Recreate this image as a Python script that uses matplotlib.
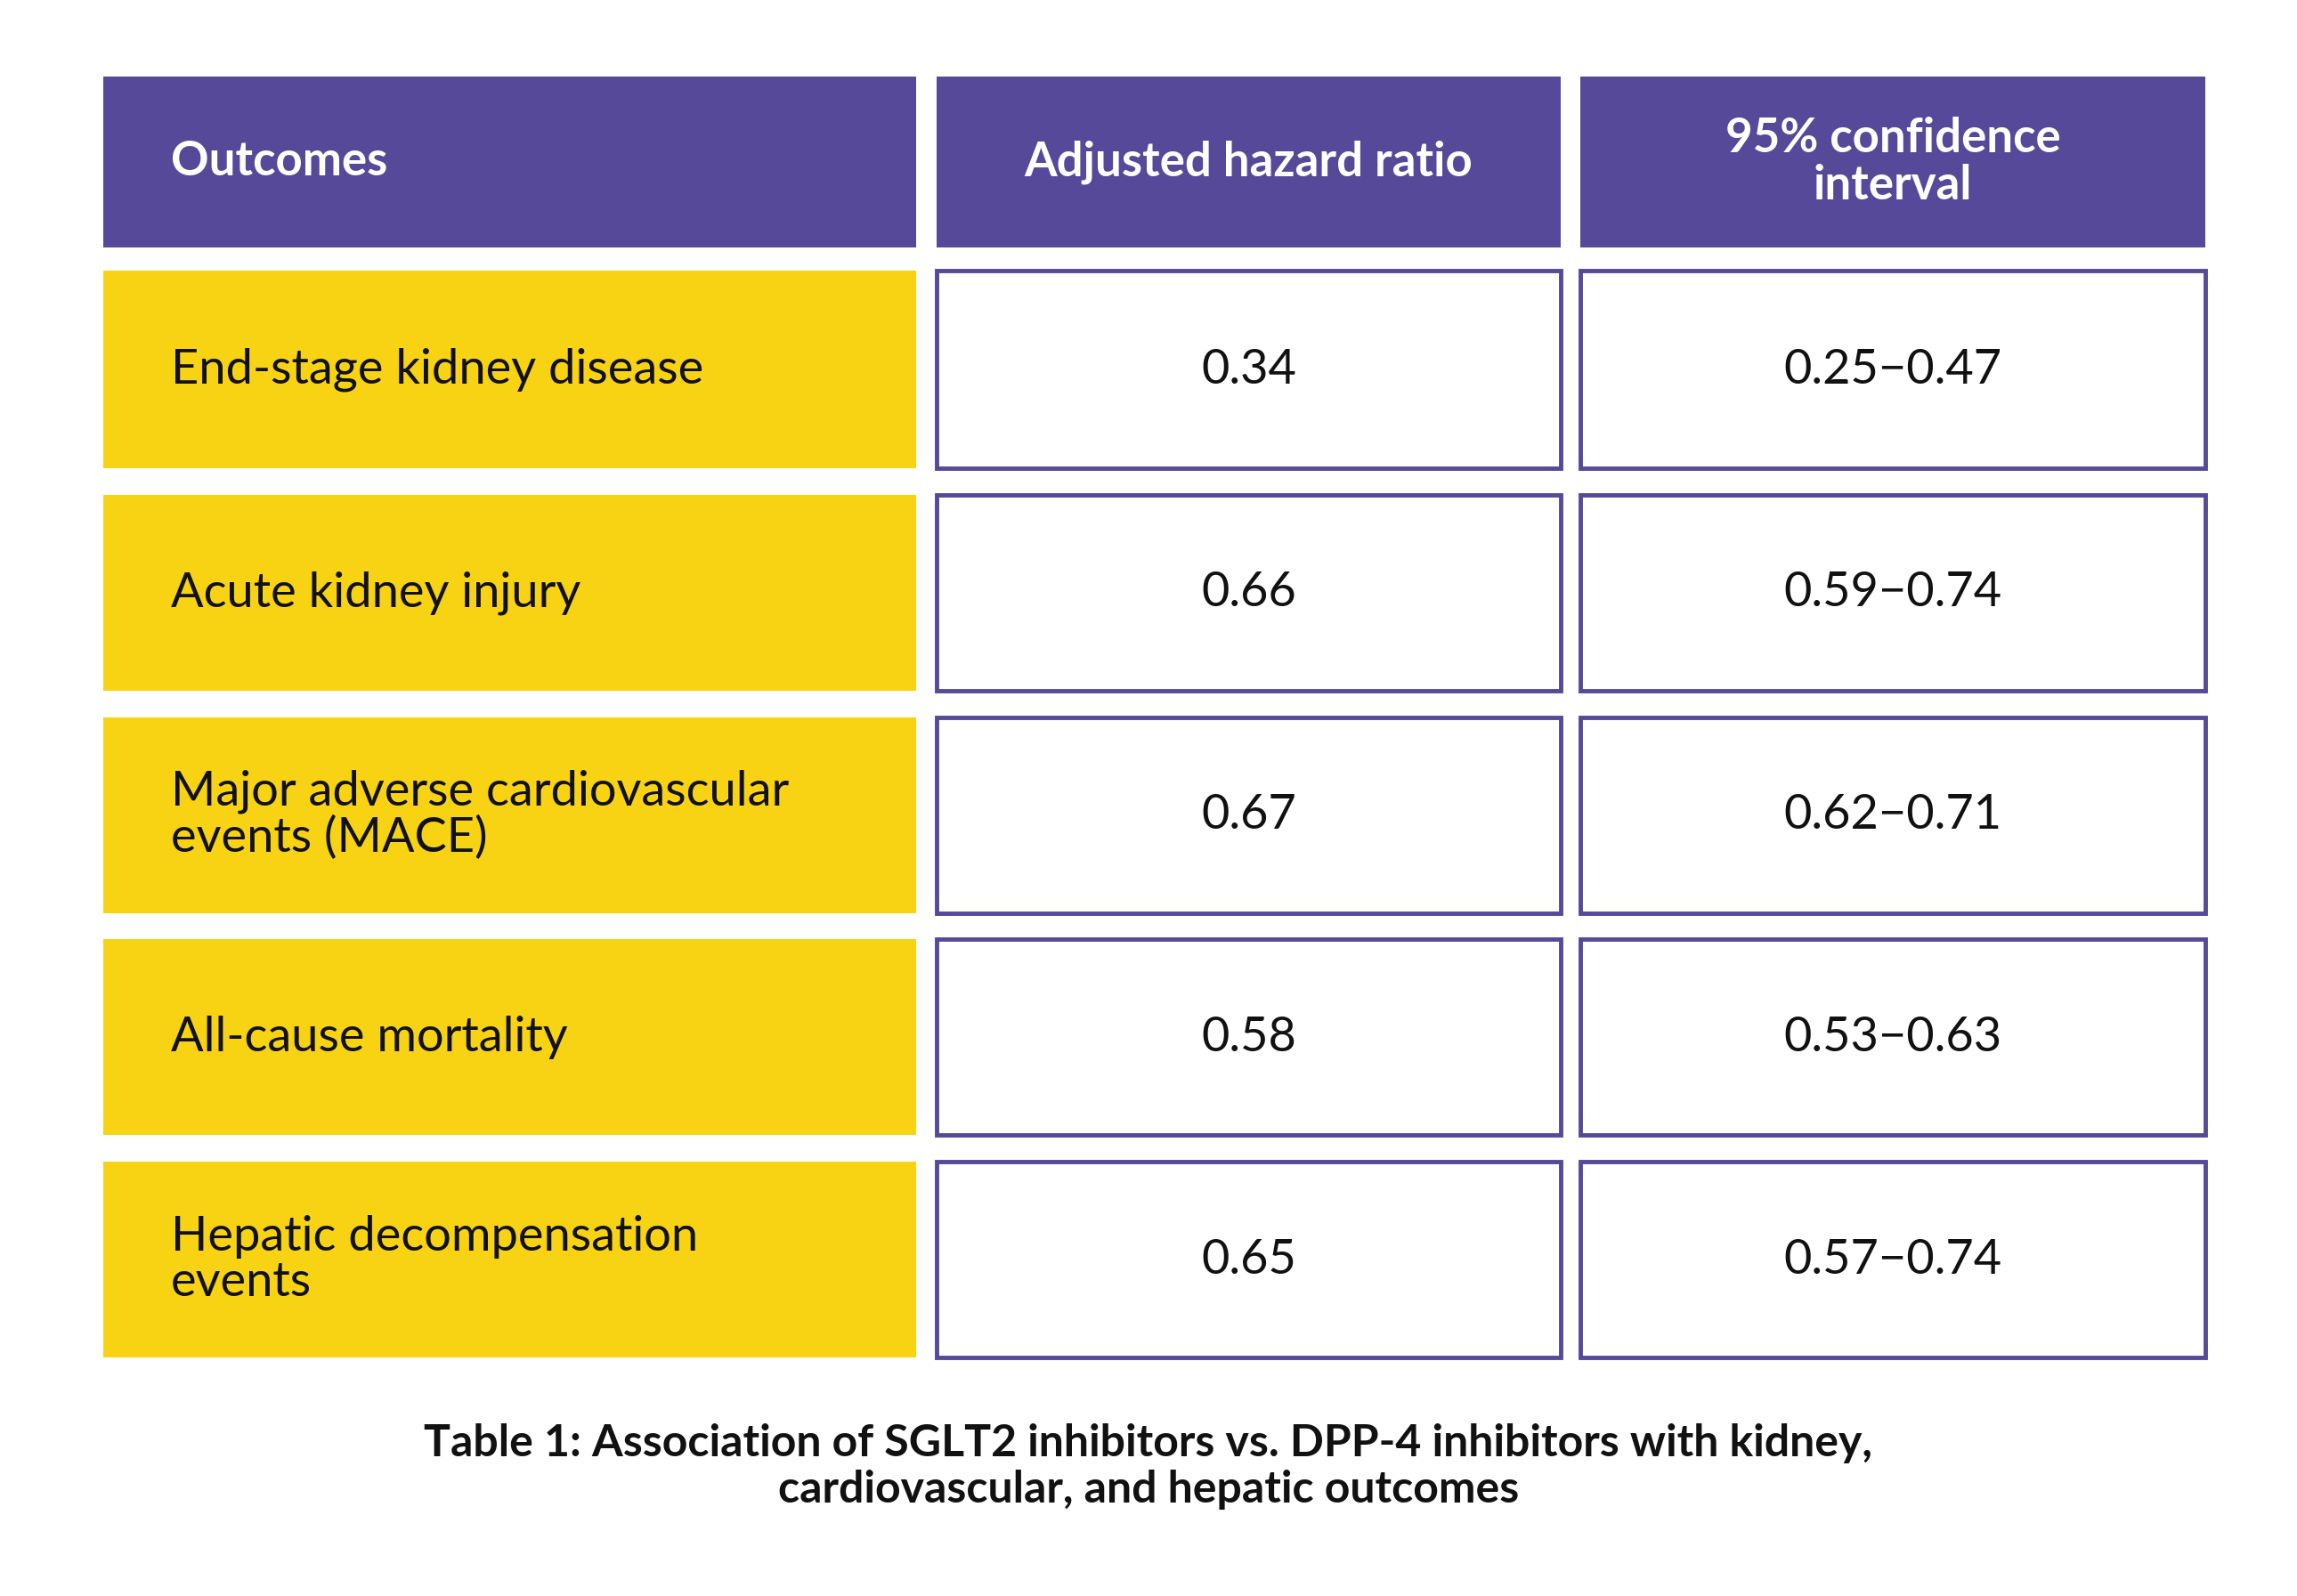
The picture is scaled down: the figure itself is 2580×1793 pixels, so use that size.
import matplotlib
matplotlib.use("Agg")
import matplotlib.pyplot as plt
from matplotlib.patches import Rectangle

headers = ["Outcomes", "Adjusted hazard ratio", "95% confidence\ninterval"]
outcomes = ["End-stage kidney disease", "Acute kidney injury",
            "Major adverse cardiovascular\nevents (MACE)", "All-cause mortality",
            "Hepatic decompensation\nevents"]
hazard_ratios = ["0.34", "0.66", "0.67", "0.58", "0.65"]
conf_intervals = ["0.25\u22120.47", "0.59\u22120.74", "0.62\u22120.71", "0.53\u22120.63", "0.57\u22120.74"]
caption = ("Table 1: Association of SGLT2 inhibitors vs. DPP-4 inhibitors with kidney,\n"
           "cardiovascular, and hepatic outcomes")

PURPLE = "#56499a"
YELLOW = "#f7d313"
FONT = ["Lato", "DejaVu Sans"]

fig = plt.figure(figsize=(25.8, 17.93), dpi=100)
ax = fig.add_axes([0, 0, 1, 1])
ax.set_xlim(0, 1560)
ax.set_ylim(1084, 0)
ax.axis("off")

cols = [(70, 622), (636, 1060), (1073, 1498)]
hdr = (52, 168)
rows = [(184, 318), (336, 469), (487, 620), (638, 771), (789, 922)]

for i, (x0, x1) in enumerate(cols):
    ax.add_patch(Rectangle((x0, hdr[0]), x1 - x0, hdr[1] - hdr[0], color=PURPLE, lw=0))
    ym = (hdr[0] + hdr[1]) / 2
    if i == 0:
        ax.text(116, ym, headers[i], color="white", fontsize=38, fontweight="bold",
                family=FONT, ha="left", va="center")
    else:
        ax.text((x0 + x1) / 2, ym, headers[i], color="white", fontsize=38, fontweight="bold",
                family=FONT, ha="center", va="center", linespacing=1.1)

for r, (y0, y1) in enumerate(rows):
    ym = (y0 + y1) / 2
    x0, x1 = cols[0]
    ax.add_patch(Rectangle((x0, y0), x1 - x0, y1 - y0, color=YELLOW, lw=0))
    ax.text(116, ym, outcomes[r], color="#111111", fontsize=39, family=FONT,
            ha="left", va="center", linespacing=1.05)
    for c, vals in ((1, hazard_ratios), (2, conf_intervals)):
        x0, x1 = cols[c]
        ax.add_patch(Rectangle((x0, y0), x1 - x0, y1 - y0, facecolor="white",
                               edgecolor=PURPLE, lw=3.5))
        ax.text((x0 + x1) / 2, ym, vals[r], color="#111111", fontsize=39, family=FONT,
                ha="center", va="center")

ax.text(780, 996, caption, color="#111111", fontsize=36, fontweight="bold", family=FONT,
        ha="center", va="center", linespacing=1.2)

fig.savefig("out.png", dpi=100, facecolor="white")
